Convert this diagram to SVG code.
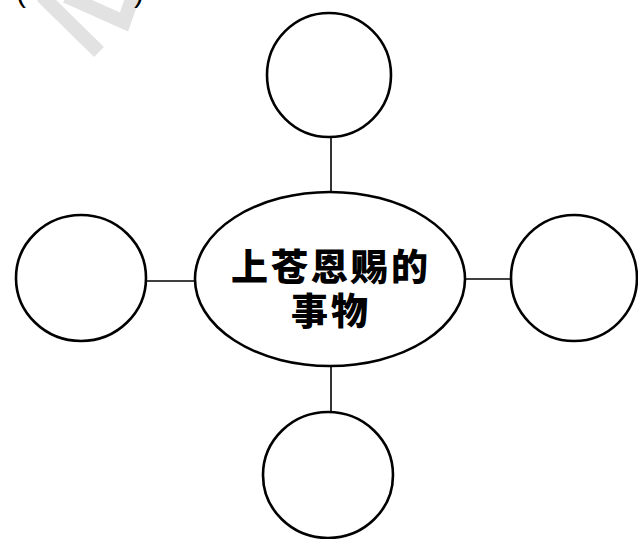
<svg xmlns="http://www.w3.org/2000/svg" width="638" height="539" viewBox="0 0 638 539">
<style>
.node{fill:#fff;stroke:#000;stroke-width:2.6}
.conn{stroke:#000;stroke-width:1.6;fill:none}
.lbl{font-family:"Noto Sans CJK SC","Noto Sans CJK TC",sans-serif;font-weight:900;font-size:37px;letter-spacing:3px;fill:#000;text-anchor:middle}
.frag{font-family:"Liberation Sans",sans-serif;font-size:30px;fill:#000}
</style>
<rect width="638" height="539" fill="#fff"/>
<g id="watermark" stroke="#e2e2e2" stroke-width="14" fill="none" stroke-linecap="butt">
<line x1="42" y1="-4" x2="99" y2="52"/>
<polyline points="66,-4 124,22 133,-4"/>
</g>
<g id="fragment">
<text class="frag" x="16" y="2">(</text>
<text class="frag" x="134" y="2">)</text>
</g>
<g id="connectors">
<line class="conn" x1="331" y1="137" x2="331" y2="193"/>
<line class="conn" x1="331" y1="365" x2="331" y2="411"/>
<line class="conn" x1="146" y1="281" x2="196" y2="281"/>
<line class="conn" x1="464" y1="279" x2="512" y2="279"/>
</g>
<g id="center">
<ellipse class="node" cx="330" cy="279" rx="135" ry="87"/>
<text class="lbl"><tspan x="331" y="281">上苍恩赐的</tspan><tspan x="331" y="325">事物</tspan></text>
</g>
<g id="top"><circle class="node" cx="329" cy="75" r="62"/></g>
<g id="left"><ellipse class="node" cx="81" cy="278" rx="65" ry="63"/></g>
<g id="right"><ellipse class="node" cx="574" cy="278" rx="63" ry="63"/></g>
<g id="bottom"><ellipse class="node" cx="328" cy="475" rx="65" ry="63"/></g>
</svg>
